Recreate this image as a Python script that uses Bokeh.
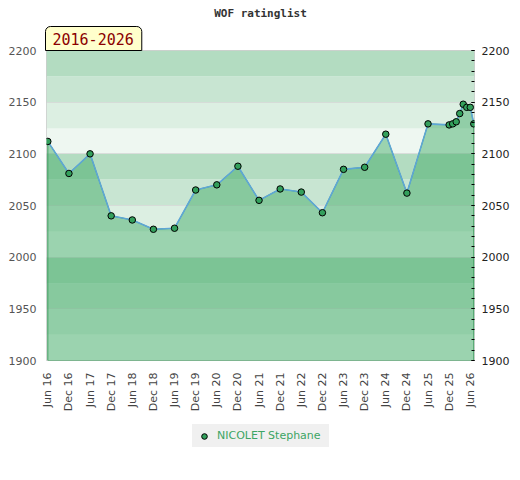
import math
from bokeh.plotting import figure
from bokeh.layouts import column
from bokeh.models import (Range1d, LinearAxis, FixedTicker, Title, Legend, LegendItem)
from bokeh.embed import file_html
from bokeh.resources import INLINE

# ---- data ----
dates = ["2016-06", "2016-12", "2017-06", "2017-12", "2018-06", "2018-12",
         "2019-06", "2019-12", "2020-06", "2020-12", "2021-06", "2021-12",
         "2022-06", "2022-12", "2023-06", "2023-12", "2024-06", "2024-12",
         "2025-06", "2025-12", "2026-01", "2026-02", "2026-03", "2026-04",
         "2026-05", "2026-06", "2026-07"]
ratings = [2112, 2081, 2100, 2040, 2036, 2027, 2028, 2065, 2070, 2088,
           2055, 2066, 2063, 2043, 2085, 2087, 2119, 2062, 2129, 2128,
           2129, 2131, 2139, 2148, 2145, 2145, 2129]
tick_dates = ["2016-06", "2016-12", "2017-06", "2017-12", "2018-06", "2018-12",
              "2019-06", "2019-12", "2020-06", "2020-12", "2021-06", "2021-12",
              "2022-06", "2022-12", "2023-06", "2023-12", "2024-06", "2024-12",
              "2025-06", "2025-12", "2026-06"]
tick_labels = ["Jun 16", "Dec 16", "Jun 17", "Dec 17", "Jun 18", "Dec 18",
               "Jun 19", "Dec 19", "Jun 20", "Dec 20", "Jun 21", "Dec 21",
               "Jun 22", "Dec 22", "Jun 23", "Dec 23", "Jun 24", "Dec 24",
               "Jun 25", "Dec 25", "Jun 26"]
y_ticks = [1900, 1950, 2000, 2050, 2100, 2150, 2200]
player = "NICOLET Stephane"
period_label = "2016-2026"
title_text = "WOF ratinglist"


def month_index(s):
    y, m = s.split("-")
    return (int(y) - 2016) * 12 + (int(m) - 6)


xs = [month_index(d) for d in dates]
tick_x = [month_index(d) for d in tick_dates]

p = figure(width=514, height=415, output_backend="svg", toolbar_location=None,
           x_range=Range1d(-0.37, 121.2), y_range=Range1d(1900, 2200),
           min_border_left=46, min_border_right=40, min_border_top=50,
           min_border_bottom=55, title=None)
p.background_fill_color = "white"
p.border_fill_color = "white"
p.outline_line_color = "#cccccc"
p.xgrid.visible = False
p.ygrid.visible = False

# horizontal bands (25 rating units each, repeating every 100)
band_colors = ["#eef7f1", "#dcefe2", "#c8e5d2", "#b3dcc1"]
b0 = list(range(1900, 2200, 25))
b1 = [b + 25 for b in b0]
bc = [band_colors[((b - 1900) // 25) % 4] for b in b0]
p.hstrip(y0=b0, y1=b1, fill_color=bc, line_color=None)
p.hspan(y=y_ticks, line_color="#d4d4d4", line_width=1, line_alpha=0.7)

# area
px = [xs[0]] + xs + [xs[-1]]
py = [1900] + ratings + [1900]
p.patch(px, py, fill_color="#3eaa63", fill_alpha=0.47,
        line_color="#3a9a5a", line_width=1)
p.line(xs, ratings, line_color="#5ea6d6", line_width=1.6)
sc = p.scatter(xs, ratings, size=6.5, fill_color="#33a05c", line_color="black",
               line_width=1)

# axes
la = p.yaxis[0]
la.ticker = FixedTicker(ticks=y_ticks, minor_ticks=[])
la.major_tick_in = 0
la.major_tick_out = 0
la.minor_tick_line_color = None
la.axis_line_color = None
la.major_label_standoff = 10
la.major_label_text_font = "DejaVu Sans"
la.major_label_text_font_size = "11px"
la.major_label_text_color = "#555555"

ra = LinearAxis(ticker=FixedTicker(ticks=y_ticks,
                                   minor_ticks=list(range(1900, 2201, 10))))
ra.major_tick_in = 3
ra.major_tick_out = 0
ra.minor_tick_in = 3
ra.minor_tick_out = 0
ra.major_tick_line_color = "black"
ra.minor_tick_line_color = "black"
ra.axis_line_color = None
ra.major_label_standoff = 7
ra.major_label_text_font = "DejaVu Sans"
ra.major_label_text_font_size = "11px"
ra.major_label_text_color = "#222222"
p.add_layout(ra, "right")

xa = p.xaxis[0]
xa.ticker = FixedTicker(ticks=tick_x, minor_ticks=[])
xa.major_label_overrides = {t: l for t, l in zip(tick_x, tick_labels)}
xa.major_label_orientation = math.pi / 2
xa.major_tick_in = 0
xa.major_tick_out = 0
xa.minor_tick_line_color = None
xa.axis_line_color = None
xa.major_label_standoff = 12
xa.major_label_text_font = "DejaVu Sans"
xa.major_label_text_font_size = "11px"
xa.major_label_text_color = "#444444"

# period label box (nearest the frame), then the main title above it
period = Title(text=period_label, align="left", offset=-1, standoff=0,
               text_font="DejaVu Sans Mono", text_font_size="15px",
               text_font_style="normal", text_color="#8b0000",
               background_fill_color="#ffffcc", border_line_color="black",
               border_line_width=1,
               padding=dict(left=7, right=8, top=6, bottom=6),
               border_radius=dict(top_left=5, top_right=5, bottom_left=0, bottom_right=0))
p.add_layout(period, "above")
main_title = Title(text=title_text, align="center", standoff=9,
                   text_font="DejaVu Sans Mono", text_font_size="11px",
                   text_font_style="bold", text_color="#333333")
p.add_layout(main_title, "above")

# legend in a small strip figure below
p2 = figure(width=514, height=45, output_backend="svg", toolbar_location=None,
            x_range=Range1d(-1, -0.5), y_range=Range1d(0, 1),
            x_axis_type=None, y_axis_type=None,
            min_border_left=0, min_border_right=0, min_border_top=0,
            min_border_bottom=0)
p2.outline_line_color = None
p2.background_fill_color = "white"
p2.border_fill_color = "white"
p2.grid.visible = False
lr = p2.scatter(x=xs[:1], y=ratings[:1], size=6.5, fill_color="#33a05c",
                line_color="black", line_width=1)
legend = Legend(items=[LegendItem(label=player, renderers=[lr])],
                orientation="horizontal", location=(146, 13),
                background_fill_color="#f0f0f0", background_fill_alpha=1,
                border_line_color=None, label_text_color="#3da564",
                label_text_font="DejaVu Sans", label_text_font_size="11px",
                padding=0, glyph_width=24, glyph_height=14, label_standoff=1,
                label_width=112, margin=0, label_height=23)
p2.add_layout(legend)

layout = column(p, p2, spacing=0)
open("out.html", "w").write(file_html(layout, INLINE))
